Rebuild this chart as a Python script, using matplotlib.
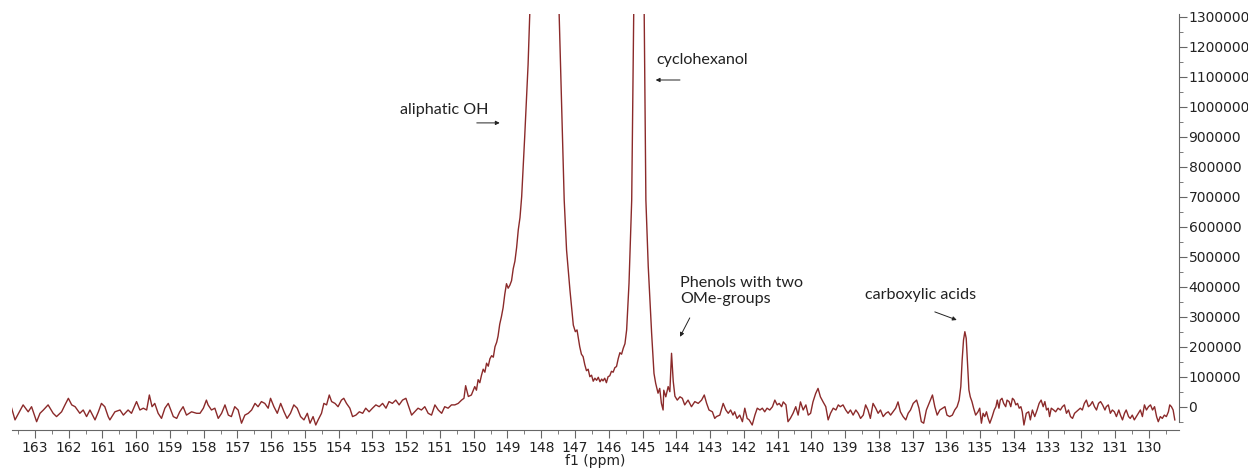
import numpy as np
import matplotlib
matplotlib.use("Agg")
import matplotlib.pyplot as plt
from matplotlib.ticker import MultipleLocator, FuncFormatter

# 31P NMR spectrum (intensity in thousands)
ppm = [
    163.69, 163.59, 163.35, 163.20, 163.10, 162.95, 162.85, 162.75, 162.61, 162.46,
    162.36, 162.21, 162.11, 162.01, 161.91, 161.81, 161.67, 161.57, 161.47, 161.37,
    161.22, 161.12, 161.03, 160.93, 160.83, 160.78, 160.63, 160.48, 160.38, 160.24,
    160.14, 159.99, 159.89, 159.79, 159.69, 159.61, 159.53, 159.45, 159.35, 159.25,
    159.15, 159.05, 158.90, 158.80, 158.71, 158.61, 158.51, 158.36, 158.21,
    158.11, 158.01, 157.92, 157.87, 157.77, 157.67, 157.57, 157.47, 157.37, 157.27,
    157.18, 157.08, 156.98, 156.88, 156.78, 156.68, 156.58, 156.48, 156.39, 156.29,
    156.19, 156.09, 156.02, 155.92, 155.82, 155.72, 155.62, 155.53, 155.43, 155.33,
    155.23, 155.13, 155.03, 154.93, 154.85, 154.76, 154.68, 154.61, 154.51, 154.44,
    154.36, 154.28, 154.21, 154.11, 154.02, 153.92, 153.85, 153.77, 153.67, 153.59,
    153.49, 153.39, 153.29, 153.20, 153.10, 153.00, 152.90, 152.80, 152.70, 152.60,
    152.51, 152.41, 152.31, 152.21, 152.11, 152.01,
    151.84, 151.74, 151.65, 151.55, 151.45, 151.35, 151.25, 151.15, 151.05, 150.95,
    150.86, 150.76, 150.66, 150.56, 150.46, 150.36, 150.29, 150.24, 150.16, 150.07,
    149.97, 149.92, 149.87, 149.82, 149.77, 149.72, 149.67, 149.62, 149.57, 149.52,
    149.47, 149.42, 149.37, 149.32, 149.28, 149.23, 149.18, 149.13, 149.08, 149.03,
    148.98, 148.93, 148.88, 148.83, 148.78, 148.73, 148.68, 148.63, 148.58, 148.49,
    148.44, 148.39, 148.34, 147.90, 147.47, 147.32, 147.25, 147.15, 147.05, 146.99,
    146.94, 146.86, 146.81, 146.76, 146.71, 146.66, 146.61, 146.56, 146.51, 146.46,
    146.41, 146.36, 146.31, 146.26, 146.21, 146.17, 146.12, 146.07, 146.02, 145.97,
    145.92, 145.87, 145.82, 145.77, 145.72, 145.67, 145.62, 145.57, 145.52, 145.47,
    145.40, 145.32, 145.26, 145.10, 144.95, 144.90, 144.83, 144.73, 144.66, 144.61,
    144.54, 144.49, 144.44, 144.39, 144.37, 144.31, 144.24, 144.19, 144.14, 144.09,
    144.04, 143.97, 143.89, 143.82, 143.75, 143.65, 143.55, 143.45, 143.35, 143.25,
    143.17, 143.10, 143.03, 142.93, 142.86, 142.81,
    142.71, 142.61, 142.53, 142.46, 142.39, 142.32, 142.27, 142.20, 142.12, 142.04,
    141.97, 141.90, 141.84, 141.75, 141.67, 141.60, 141.52, 141.45, 141.38, 141.31,
    141.23, 141.15, 141.08, 141.01, 140.95, 140.88, 140.83, 140.75, 140.69, 140.62,
    140.54, 140.46, 140.39, 140.32, 140.24, 140.16, 140.09, 140.02, 139.95, 139.87,
    139.80, 139.73, 139.65, 139.57, 139.50, 139.43, 139.35, 139.27, 139.20, 139.14,
    139.06, 138.98, 138.91, 138.84, 138.76, 138.68, 138.61, 138.54, 138.46, 138.39,
    138.32, 138.25, 138.17, 138.09, 138.02, 137.95, 137.87, 137.79, 137.72, 137.65,
    137.58, 137.50, 137.43, 137.36, 137.28, 137.20, 137.13, 137.06, 136.98, 136.88,
    136.81, 136.74, 136.67, 136.59, 136.51, 136.41, 136.34, 136.27, 136.19, 136.11,
    136.04, 135.98,
    135.90, 135.82, 135.75, 135.68, 135.62, 135.57, 135.53, 135.49, 135.45, 135.41,
    135.37, 135.33, 135.29, 135.24, 135.19, 135.13, 135.06, 135.01, 134.96, 134.91,
    134.86, 134.81, 134.76, 134.71, 134.64, 134.58, 134.53, 134.49, 134.44, 134.40,
    134.35, 134.30, 134.24, 134.20, 134.14, 134.09, 134.04, 133.99, 133.94, 133.89,
    133.84, 133.79, 133.75, 133.70, 133.63, 133.56, 133.51, 133.45, 133.38, 133.31,
    133.25, 133.19, 133.13, 133.08, 133.03, 132.98, 132.94, 132.89, 132.82, 132.76,
    132.69, 132.62, 132.56, 132.50, 132.44, 132.38, 132.32, 132.26, 132.20, 132.15,
    132.09, 132.03, 131.97, 131.91, 131.85, 131.79, 131.73, 131.67, 131.61, 131.55,
    131.49, 131.43, 131.37, 131.30, 131.26, 131.20, 131.14, 131.08, 131.02, 130.96,
    130.89, 130.84, 130.78, 130.72, 130.67, 130.60, 130.55, 130.49, 130.43, 130.37,
    130.31, 130.25, 130.19, 130.13, 130.07, 130.01, 129.95, 129.89, 129.83, 129.77,
    129.72, 129.66, 129.60, 129.54, 129.48, 129.42, 129.38, 129.33, 129.28, 129.23,
]

intensity_k = [
    -5, -44, 6, -17, 0, -50, -22, -11, 6, -22,
    -33, -17, 6, 28, 6, 0, -22, -11, -33, -11,
    -44, -17, 11, 0, -33, -44, -17, -11, -28, -11,
    -22, 17, -11, -5, -11, 39, 0, 11, -22, -39,
    -5, 11, -33, -39, -17, 0, -28, -17, -22,
    -22, -5, 22, 6, -11, -5, -39, -22, 6, -28,
    -33, 0, -11, -55, -28, -22, -11, 11, 0, 17,
    11, -5, 28, 0, -22, 11, -17, -39, -22, 6,
    -5, -33, -44, -22, -55, -33, -61, -44, -22, 11,
    6, 39, 17, 11, 0, 22, 28, 11, -5, -33,
    -28, -17, -22, -5, -17, -5, 6, 0, 11, -5,
    17, 11, 22, 6, 22, 28,
    -28, -16, -5, -11, 0, -22, -28, 6, -11, -22,
    0, -5, 6, 6, 11, 22, 28, 70, 34, 39,
    67, 55, 90, 80, 105, 125, 115, 145, 135, 160,
    170, 165, 200, 215, 235, 275, 300, 330, 375, 410,
    395, 405, 420, 460, 485, 530, 590, 630, 700, 900,
    1020, 1140, 1310, 2800, 1310, 689, 522, 389, 272, 250,
    256, 200, 175, 167, 140, 120, 125, 100, 105, 85,
    95, 88, 98, 83, 92, 86, 95, 80, 100, 103,
    118, 115, 130, 134, 160, 180, 175, 195, 210, 256,
    411, 689, 1310, 3200, 1310, 689, 467, 245, 111, 78,
    45, 61, 11, -11, 55, 33, 67, 50, 178, 85,
    35, 22, 33, 28, 6, 22, 0, 17, 11, 22,
    39, 11, -11, -17, -39, -33,
    -28, 11, -11, -22, -11, -28, -17, -39, -28, -50,
    -5, -39, -44, -61, -28, -5, -11, -5, -17, -5,
    -11, 0, 22, 6, 11, 0, 16, 6, -50, -39,
    -22, 0, -28, 16, -11, 6, -28, -22, 16, 44,
    61, 33, 16, 0, -44, -22, -5, -11, 6, 0,
    6, -11, -22, -11, -28, -11, -22, -39, -28, 6,
    -11, -39, 11, -5, -22, -11, -33, -22, -17, -28,
    -17, -5, 16, -17, -33, -44, -22, -11, 11, 22,
    -5, -50, -55, -11, 11, 39, 0, -28, -11, -5,
    0, -28,
    -33, -28, -11, 0, 22, 67, 156, 222, 250, 228,
    145, 56, 33, 17, -5, -28, -17, -5, -55, -22,
    -33, -17, -39, -55, -33, -11, 0, 22, -5, 22,
    28, 11, 0, 22, 17, 0, 28, 22, 6, 11,
    -5, 0, -17, -61, -22, -17, -44, -11, -33, -11,
    11, 22, 0, 17, -11, -5, -33, -5, -11, -17,
    -5, -11, 0, 6, -22, -11, -33, -39, -22, -17,
    -11, -5, -11, 11, 22, 0, 6, 17, 0, -11,
    11, 17, 6, -11, 0, 6, -22, -11, -17, -33,
    -11, -28, -44, -22, -11, -33, -39, -28, -44, -33,
    -22, -11, -33, 6, -11, 0, 6, -11, 0, -33,
    -50, -33, -39, -28, -33, -17, 6, 0, -11, -44,
]

x_ticks = list(range(130, 164))

# peak labels: text, text position (ppm, intensity), arrow tail, arrow head
labels = ["aliphatic OH", "cyclohexanol", "Phenols with two\nOMe-groups", "carboxylic acids"]
label_pos = [(152.19, 989000), (144.58, 1155000), (143.89, 385000), (138.41, 372000)]
arrow_from = [(149.91, 946000), (143.89, 1089000), (143.60, 296000), (136.34, 316000)]
arrow_to = [(149.23, 946000), (144.61, 1089000), (143.89, 233000), (135.69, 289000)]

intensity = np.array(intensity_k) * 1000

fig = plt.figure(figsize=(12.48, 4.73), dpi=100)
ax = fig.add_axes([0.0096, 0.0909, 0.935, 0.8795])

ax.plot(ppm, intensity, color="#8b2a2a", lw=1.0)

ax.set_xlim(163.68, 129.11)
ax.set_ylim(-77700, 1309000)

# MestReNova-like axes: bottom x axis, y axis on the right
for s in ["top", "left"]:
    ax.spines[s].set_visible(False)
ax.spines["bottom"].set_color("#666666")
ax.spines["right"].set_color("#666666")
ax.spines["right"].set_bounds(-50000, 1309000)

ax.set_xticks(x_ticks)
ax.set_xticklabels([str(t) for t in x_ticks])
ax.xaxis.set_minor_locator(MultipleLocator(0.5))
ax.yaxis.tick_right()
ax.yaxis.set_major_locator(MultipleLocator(100000))
ax.yaxis.set_minor_locator(MultipleLocator(50000))
ax.yaxis.set_major_formatter(FuncFormatter(lambda v, p: "%d" % v))

ax.tick_params(axis="x", which="major", direction="out", length=6, color="#666666",
               labelsize=10, labelcolor="#222222", pad=2)
ax.tick_params(axis="x", which="minor", direction="out", length=3, color="#666666")
ax.tick_params(axis="y", which="major", direction="out", length=6, color="#666666",
               labelsize=10, labelcolor="#222222", pad=1)
ax.tick_params(axis="y", which="minor", direction="out", length=3, color="#666666")

ax.set_xlabel("f1 (ppm)", fontsize=10, color="#222222", labelpad=-1)

for txt, pos, a, b in zip(labels, label_pos, arrow_from, arrow_to):
    ax.text(pos[0], pos[1], txt, fontsize=11.6, family="Lato", color="#222222",
            ha="left", va="center", linespacing=1.2)
    ax.annotate("", xy=b, xytext=a,
                arrowprops=dict(arrowstyle="-|>", color="#222222", lw=0.7,
                                mutation_scale=6, shrinkA=0, shrinkB=0))

fig.savefig("out.png", dpi=100)
